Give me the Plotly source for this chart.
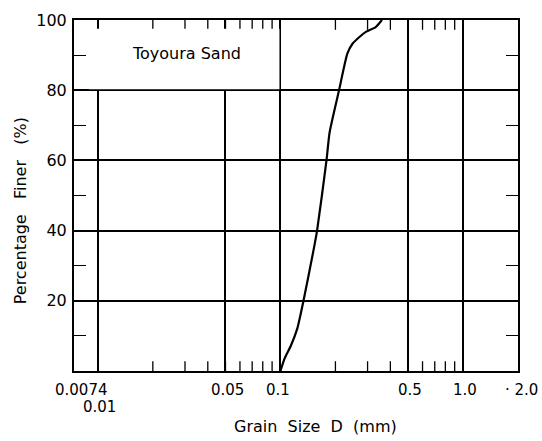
import math
import plotly.graph_objects as go

# Grain size distribution curve of Toyoura sand
grain_size_mm = [0.1, 0.1054, 0.114, 0.1235, 0.1337, 0.1525, 0.1587, 0.1787,
                 0.1859, 0.2094, 0.2327, 0.2486, 0.2727, 0.295, 0.3323, 0.3597]
percent_finer = [0, 3.6, 7.2, 12, 20, 35, 40, 60,
                 68, 80, 90.5, 93.3, 95.3, 96.7, 98, 100]

x_min, x_max = 0.0074, 2.0
grid_x = [0.01, 0.05, 0.1, 0.5, 1.0]
minor_x = [0.01, 0.02, 0.03, 0.04, 0.05, 0.06, 0.07, 0.08, 0.09,
           0.2, 0.3, 0.4, 0.6, 0.7, 0.8, 0.9]
x_labels = ["0.0074", "0.01", "0.05", "0.1", "0.5", "1.0", "· 2.0"]
x_label_vals = [0.0074, 0.01, 0.05, 0.1, 0.5, 1.0, 2.0]
x_label_row = [0, 1, 0, 0, 0, 0, 0]
x_label_shift = [7, 2, 2, -2, 2, 2, 3]
y_min, y_max = 0, 100
y_major = [20, 40, 60, 80, 100]
y_minor = [10, 30, 50, 70, 90]

FONT = "DejaVu Sans"
PLOT_W = 542 - 74 - 24
lo, hi = math.log10(x_min), math.log10(x_max)


def to_paper(v):
    return (math.log10(v) - lo) / (hi - lo)


fig = go.Figure()
fig.add_trace(go.Scatter(
    x=grain_size_mm, y=percent_finer, mode="lines",
    line=dict(color="black", width=2.2, shape="spline", smoothing=0.6),
    hoverinfo="skip", showlegend=False,
))
# short inward tick marks along the bottom and top edges; the half of
# each vertical marker lying outside the plot area is clipped away
fig.add_trace(go.Scatter(
    x=minor_x + minor_x,
    y=[y_min] * len(minor_x) + [y_max] * len(minor_x),
    mode="markers", cliponaxis=True,
    marker=dict(symbol="line-ns", size=14, color="black",
                line=dict(width=1.3, color="black")),
    hoverinfo="skip", showlegend=False,
))

# white label box in the upper-left corner hides the grid there,
# leaving a thin strip at the top and left for the tick marks
fig.add_shape(type="rect", xref="paper", yref="y",
              x0=15 / PLOT_W, x1=to_paper(0.1) - 1 / PLOT_W,
              y0=80.3, y1=97.5,
              fillcolor="white", line=dict(width=0),
              layer="above")

annotations = [dict(text="Toyoura Sand", xref="paper", yref="y",
                    x=0.2545, y=90.5, xanchor="center", showarrow=False,
                    font=dict(family=FONT, size=16, color="black"))]
for txt, v, row, sh in zip(x_labels, x_label_vals, x_label_row, x_label_shift):
    annotations.append(dict(
        text=txt, xref="paper", yref="paper", x=to_paper(v), y=0,
        yanchor="top", xanchor="center", showarrow=False,
        xshift=sh, yshift=-8 - 17 * row,
        font=dict(family=FONT, size=15, color="black")))
annotations.append(dict(text="Grain  Size  D  (mm)", xref="paper", yref="paper",
                        x=0.545, y=0, xanchor="center", yanchor="top",
                        yshift=-44, showarrow=False,
                        font=dict(family=FONT, size=16, color="black")))
annotations.append(dict(text="Percentage   Finer   (%)", xref="paper", yref="paper",
                        x=0, y=0.455, xanchor="center", yanchor="middle",
                        xshift=-54, textangle=-90, showarrow=False,
                        font=dict(family=FONT, size=16, color="black")))

fig.update_layout(
    width=542, height=441,
    margin=dict(l=74, r=24, t=11, b=70),
    paper_bgcolor="white", plot_bgcolor="white",
    annotations=annotations,
    xaxis=dict(
        type="log", range=[lo, hi],
        tickvals=grid_x, showticklabels=False, ticks="",
        showgrid=True, gridcolor="black", gridwidth=1.5,
        showline=True, linecolor="black", linewidth=2, mirror=True,
        zeroline=False,
    ),
    yaxis=dict(
        range=[y_min, y_max], tickvals=y_major, ticks="",
        showgrid=True, gridcolor="black", gridwidth=1.5,
        showline=True, linecolor="black", linewidth=2, mirror="ticks",
        zeroline=False, ticklabelstandoff=2,
        tickfont=dict(family=FONT, size=16, color="black"),
        minor=dict(tickvals=y_minor, ticks="inside", ticklen=12,
                   tickcolor="black", tickwidth=1.2, showgrid=False),
    ),
)

fig.write_html("out.html")
